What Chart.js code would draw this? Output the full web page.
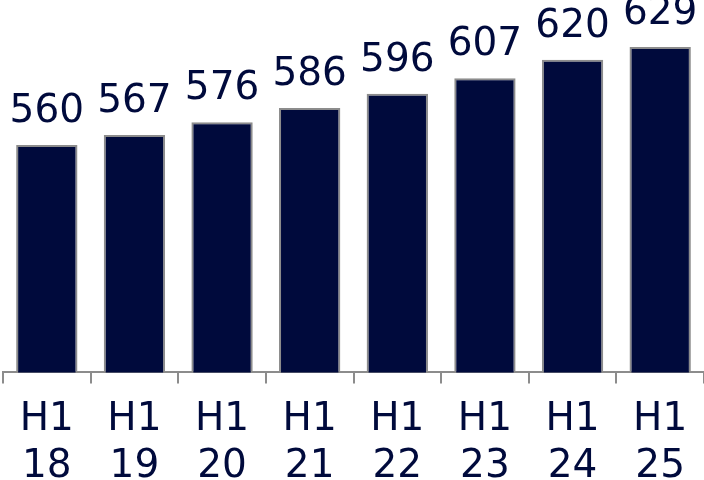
<!DOCTYPE html>
<html>
<head>
<meta charset="utf-8">
<style>
  html, body { margin: 0; padding: 0; background: #fff; overflow: hidden; }
  #wrap { width: 704px; height: 503px; }
</style>
<script src="https://cdn.jsdelivr.net/npm/chart.js@4/dist/chart.umd.min.js"></script>
</head>
<body>
<div id="wrap"><canvas id="halfYearChart"></canvas></div>
<script>
// Half-year figures
const periods = ['H1 18', 'H1 19', 'H1 20', 'H1 21', 'H1 22', 'H1 23', 'H1 24', 'H1 25'];
const values = [560, 567, 576, 586, 596, 607, 620, 629];

const NAVY = '#000a3c';
const GREY = '#8c8c8c';
const FONT = '"DejaVu Sans", sans-serif';
const FONT_SIZE = 39;

// Writes each value just above the top of its bar
const valueLabels = {
    id: 'valueLabels',
    afterDatasetsDraw(chart) {
        const ctx = chart.ctx;
        const meta = chart.getDatasetMeta(0);
        ctx.save();
        ctx.font = FONT_SIZE + 'px ' + FONT;
        ctx.fillStyle = NAVY;
        ctx.textAlign = 'center';
        ctx.textBaseline = 'alphabetic';
        meta.data.forEach((bar, i) => {
            ctx.fillText(String(values[i]), bar.x, bar.y - 23);
        });
        ctx.restore();
    }
};

document.addEventListener('DOMContentLoaded', () => {
    const ctx = document.getElementById('halfYearChart').getContext('2d');
    new Chart(ctx, {
        type: 'bar',
        data: {
            // split "H1 18" into two lines under each bar
            labels: periods.map(p => p.split(' ')),
            datasets: [{
                data: values,
                backgroundColor: NAVY,
                borderColor: GREY,
                borderWidth: 2,
                borderSkipped: false,
                barPercentage: 0.7,
                categoryPercentage: 1
            }]
        },
        options: {
            responsive: true,
            maintainAspectRatio: false,
            animation: false,
            layout: { padding: { left: 3, right: 0, top: 0, bottom: 0 } },
            plugins: {
                legend: { display: false },
                tooltip: { enabled: false }
            },
            scales: {
                x: {
                    grid: {
                        offset: true,
                        drawOnChartArea: false,
                        drawTicks: true,
                        tickLength: 11,
                        color: GREY,
                        lineWidth: 2
                    },
                    border: { display: true, color: GREY, width: 2 },
                    ticks: {
                        color: NAVY,
                        padding: 13,
                        maxRotation: 0,
                        font: { family: FONT, size: FONT_SIZE, lineHeight: 1.2 }
                    }
                },
                y: {
                    display: false,
                    min: 400,
                    max: 662
                }
            }
        },
        plugins: [valueLabels]
    });
});
</script>
</body>
</html>
